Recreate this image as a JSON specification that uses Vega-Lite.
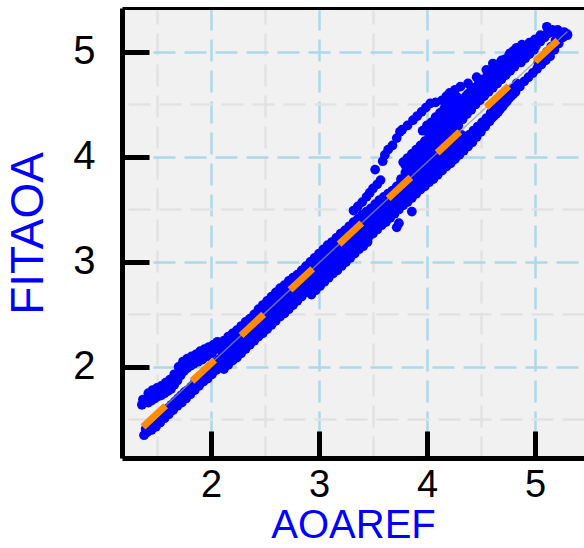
{
  "$schema": "https://vega.github.io/schema/vega-lite/v6.json",
  "autosize": "none",
  "width": 462,
  "height": 450,
  "padding": {"left": 122, "top": 8, "right": 0, "bottom": 90},
  "background": "white",
  "config": {"view": {"fill": "#f1f1f1", "stroke": null}},
  "datasets": {
    "fit": [{"x": 1.37, "y": 1.43}, {"x": 5.30, "y": 5.195}],
    "pts": [
      {"x":1.36,"y":1.64},{"x":1.37,"y":1.69},{"x":1.39,"y":1.66},{"x":1.41,"y":1.70},{"x":1.42,"y":1.66},{"x":1.44,"y":1.72},{"x":1.45,"y":1.68},{"x":1.47,"y":1.74},{"x":1.48,"y":1.70},{"x":1.50,"y":1.76},{"x":1.51,"y":1.72},{"x":1.53,"y":1.77},{"x":1.54,"y":1.73},{"x":1.56,"y":1.79},{"x":1.57,"y":1.75},{"x":1.59,"y":1.81},{"x":1.60,"y":1.77},{"x":1.62,"y":1.84},{"x":1.63,"y":1.79},{"x":1.65,"y":1.88},{"x":1.66,"y":1.83},{"x":1.68,"y":1.92},{"x":1.69,"y":1.87},{"x":1.71,"y":1.97},{"x":1.72,"y":1.92},{"x":1.73,"y":2.01},{"x":1.75,"y":1.96},{"x":1.76,"y":2.03},{"x":1.78,"y":1.99},{"x":1.79,"y":2.05},{"x":1.81,"y":2.01},{"x":1.83,"y":2.07},{"x":1.84,"y":2.03},{"x":1.86,"y":2.09},{"x":1.88,"y":2.05},{"x":1.90,"y":2.11},{"x":1.92,"y":2.07},{"x":1.94,"y":2.13},{"x":1.96,"y":2.10},{"x":1.98,"y":2.15},{"x":2.01,"y":2.13},{"x":2.04,"y":2.18},{"x":2.07,"y":2.17},
      {"x":1.42,"y":1.75},{"x":1.46,"y":1.78},{"x":1.50,"y":1.80},{"x":1.54,"y":1.82},{"x":1.58,"y":1.85},{"x":1.62,"y":1.88},{"x":1.66,"y":1.93},{"x":1.70,"y":2.00},{"x":1.74,"y":2.05},{"x":1.78,"y":2.08},{"x":1.82,"y":2.10},{"x":1.86,"y":2.12},{"x":1.90,"y":2.15},{"x":1.94,"y":2.17},{"x":1.98,"y":2.19},{"x":2.02,"y":2.21},{"x":2.06,"y":2.24},
      {"x":1.38,"y":1.35},{"x":1.395,"y":1.41},{"x":1.41,"y":1.38},{"x":1.425,"y":1.44},{"x":1.44,"y":1.41},{"x":1.455,"y":1.47},{"x":1.47,"y":1.44},{"x":1.485,"y":1.50},{"x":1.50,"y":1.46},{"x":1.515,"y":1.52},{"x":1.53,"y":1.49},{"x":1.545,"y":1.55},{"x":1.56,"y":1.52},{"x":1.575,"y":1.58},{"x":1.59,"y":1.55},{"x":1.605,"y":1.61},{"x":1.62,"y":1.58},{"x":1.635,"y":1.64},{"x":1.65,"y":1.61},{"x":1.665,"y":1.67},{"x":1.68,"y":1.64},{"x":1.695,"y":1.70},{"x":1.71,"y":1.67},{"x":1.725,"y":1.73},{"x":1.74,"y":1.70},{"x":1.755,"y":1.76},{"x":1.77,"y":1.73},{"x":1.785,"y":1.78},{"x":1.80,"y":1.76},{"x":1.815,"y":1.81},{"x":1.83,"y":1.79},{"x":1.845,"y":1.84},{"x":1.86,"y":1.82},{"x":1.875,"y":1.87},{"x":1.89,"y":1.85},{"x":1.905,"y":1.90},{"x":1.92,"y":1.88},{"x":1.935,"y":1.93},{"x":1.95,"y":1.91},{"x":1.965,"y":1.96},{"x":1.98,"y":1.94},{"x":1.995,"y":1.99},{"x":2.01,"y":1.96},{"x":2.025,"y":2.02},{"x":2.04,"y":1.99},{"x":2.055,"y":2.05},{"x":2.07,"y":2.02},{"x":2.085,"y":2.08},
      {"x":1.45,"y":1.40},{"x":1.49,"y":1.43},{"x":1.53,"y":1.47},{"x":1.57,"y":1.51},{"x":1.61,"y":1.55},{"x":1.65,"y":1.59},{"x":1.69,"y":1.63},{"x":1.73,"y":1.66},{"x":1.77,"y":1.70},{"x":1.81,"y":1.74},{"x":1.85,"y":1.78},{"x":1.89,"y":1.82},{"x":1.93,"y":1.86},{"x":1.97,"y":1.89},{"x":2.01,"y":1.93},{"x":2.05,"y":1.97},{"x":2.09,"y":2.01},
      {"x":2.10,"y":2.03},{"x":2.11,"y":2.10},{"x":2.09,"y":2.17},{"x":2.12,"y":2.25},
      {"x":2.14,"y":2.06},{"x":2.15,"y":2.14},{"x":2.13,"y":2.21},{"x":2.16,"y":2.29},
      {"x":2.18,"y":2.10},{"x":2.19,"y":2.17},{"x":2.17,"y":2.24},{"x":2.20,"y":2.32},
      {"x":2.22,"y":2.14},{"x":2.23,"y":2.21},{"x":2.21,"y":2.28},{"x":2.24,"y":2.35},
      {"x":2.26,"y":2.18},{"x":2.27,"y":2.25},{"x":2.25,"y":2.32},{"x":2.28,"y":2.39},
      {"x":2.30,"y":2.22},{"x":2.31,"y":2.29},{"x":2.29,"y":2.35},{"x":2.32,"y":2.43},
      {"x":2.34,"y":2.26},{"x":2.35,"y":2.33},{"x":2.33,"y":2.39},{"x":2.36,"y":2.46},
      {"x":2.38,"y":2.29},{"x":2.39,"y":2.37},{"x":2.37,"y":2.43},{"x":2.40,"y":2.50},
      {"x":2.42,"y":2.33},{"x":2.43,"y":2.40},{"x":2.41,"y":2.47},{"x":2.44,"y":2.55},
      {"x":2.46,"y":2.37},{"x":2.47,"y":2.44},{"x":2.45,"y":2.51},{"x":2.48,"y":2.59},
      {"x":2.50,"y":2.41},{"x":2.51,"y":2.48},{"x":2.49,"y":2.55},{"x":2.52,"y":2.63},
      {"x":2.54,"y":2.44},{"x":2.55,"y":2.52},{"x":2.53,"y":2.59},{"x":2.56,"y":2.67},
      {"x":2.58,"y":2.48},{"x":2.59,"y":2.56},{"x":2.57,"y":2.63},{"x":2.60,"y":2.71},
      {"x":2.62,"y":2.51},{"x":2.63,"y":2.59},{"x":2.61,"y":2.67},{"x":2.64,"y":2.75},
      {"x":2.66,"y":2.55},{"x":2.67,"y":2.63},{"x":2.65,"y":2.71},{"x":2.68,"y":2.78},
      {"x":2.70,"y":2.58},{"x":2.71,"y":2.67},{"x":2.69,"y":2.74},{"x":2.72,"y":2.82},
      {"x":2.74,"y":2.62},{"x":2.75,"y":2.70},{"x":2.73,"y":2.78},{"x":2.76,"y":2.85},
      {"x":2.78,"y":2.65},{"x":2.79,"y":2.74},{"x":2.77,"y":2.82},{"x":2.80,"y":2.88},
      {"x":2.82,"y":2.69},{"x":2.83,"y":2.78},{"x":2.81,"y":2.86},{"x":2.84,"y":2.92},
      {"x":2.86,"y":2.73},{"x":2.87,"y":2.82},{"x":2.85,"y":2.90},{"x":2.88,"y":2.96},
      {"x":2.90,"y":2.77},{"x":2.91,"y":2.86},{"x":2.89,"y":2.94},{"x":2.92,"y":3.00},
      {"x":2.94,"y":2.81},{"x":2.95,"y":2.90},{"x":2.93,"y":2.98},{"x":2.96,"y":3.04},
      {"x":2.98,"y":2.85},{"x":2.99,"y":2.94},{"x":2.97,"y":3.01},{"x":3.00,"y":3.08},
      {"x":3.02,"y":2.87},{"x":3.03,"y":2.96},{"x":3.01,"y":3.04},{"x":3.04,"y":3.12},
      {"x":3.06,"y":2.90},{"x":3.07,"y":3.00},{"x":3.05,"y":3.08},{"x":3.08,"y":3.16},
      {"x":3.10,"y":2.94},{"x":3.11,"y":3.03},{"x":3.09,"y":3.12},{"x":3.12,"y":3.19},
      {"x":3.14,"y":2.97},{"x":3.15,"y":3.07},{"x":3.13,"y":3.16},{"x":3.16,"y":3.23},
      {"x":3.18,"y":3.00},{"x":3.19,"y":3.10},{"x":3.17,"y":3.19},{"x":3.20,"y":3.27},
      {"x":3.22,"y":3.03},{"x":3.23,"y":3.13},{"x":3.21,"y":3.22},{"x":3.24,"y":3.30},
      {"x":3.26,"y":3.06},{"x":3.27,"y":3.17},{"x":3.25,"y":3.26},{"x":3.28,"y":3.34},
      {"x":3.30,"y":3.10},{"x":3.31,"y":3.21},{"x":3.29,"y":3.30},{"x":3.32,"y":3.38},
      {"x":3.34,"y":3.13},{"x":3.35,"y":3.24},{"x":3.33,"y":3.33},{"x":3.36,"y":3.41},
      {"x":3.38,"y":3.17},{"x":3.39,"y":3.28},{"x":3.37,"y":3.37},{"x":3.40,"y":3.45},
      {"x":3.42,"y":3.20},{"x":3.43,"y":3.31},{"x":3.41,"y":3.41},{"x":3.44,"y":3.48},
      {"x":3.46,"y":3.24},{"x":3.47,"y":3.35},{"x":3.45,"y":3.44},{"x":3.48,"y":3.51},
      {"x":3.50,"y":3.27},{"x":3.51,"y":3.38},{"x":3.49,"y":3.47},{"x":3.52,"y":3.55},
      {"x":3.54,"y":3.31},{"x":3.55,"y":3.42},{"x":3.53,"y":3.51},{"x":3.56,"y":3.59},
      {"x":3.58,"y":3.35},{"x":3.59,"y":3.46},{"x":3.57,"y":3.55},{"x":3.60,"y":3.62},
      {"x":3.62,"y":3.38},{"x":3.63,"y":3.49},{"x":3.61,"y":3.58},{"x":3.64,"y":3.65},
      {"x":3.66,"y":3.42},{"x":3.67,"y":3.53},{"x":3.65,"y":3.62},{"x":3.68,"y":3.68},
      {"x":3.70,"y":3.46},{"x":3.71,"y":3.57},{"x":3.69,"y":3.66},{"x":3.72,"y":3.72},
      {"x":2.12,"y":2.08},{"x":2.12,"y":2.15},{"x":2.12,"y":2.22},{"x":2.12,"y":1.98},
      {"x":2.16,"y":2.12},{"x":2.16,"y":2.19},{"x":2.16,"y":2.26},{"x":2.16,"y":2.02},
      {"x":2.20,"y":2.16},{"x":2.20,"y":2.23},{"x":2.20,"y":2.30},{"x":2.20,"y":2.06},
      {"x":2.24,"y":2.19},{"x":2.24,"y":2.26},{"x":2.24,"y":2.33},{"x":2.24,"y":2.09},
      {"x":2.28,"y":2.23},{"x":2.28,"y":2.30},{"x":2.28,"y":2.37},{"x":2.28,"y":2.13},
      {"x":2.32,"y":2.27},{"x":2.32,"y":2.34},{"x":2.32,"y":2.41},{"x":2.32,"y":2.17},
      {"x":2.36,"y":2.31},{"x":2.36,"y":2.38},{"x":2.36,"y":2.45},{"x":2.36,"y":2.21},
      {"x":2.40,"y":2.35},{"x":2.40,"y":2.42},{"x":2.40,"y":2.49},{"x":2.40,"y":2.25},
      {"x":2.44,"y":2.39},{"x":2.44,"y":2.46},{"x":2.44,"y":2.53},{"x":2.44,"y":2.29},
      {"x":2.48,"y":2.42},{"x":2.48,"y":2.49},{"x":2.48,"y":2.56},{"x":2.48,"y":2.32},
      {"x":2.52,"y":2.46},{"x":2.52,"y":2.53},{"x":2.52,"y":2.60},{"x":2.52,"y":2.36},
      {"x":2.56,"y":2.50},{"x":2.56,"y":2.57},{"x":2.56,"y":2.64},{"x":2.56,"y":2.40},
      {"x":2.60,"y":2.54},{"x":2.60,"y":2.61},{"x":2.60,"y":2.68},{"x":2.60,"y":2.44},
      {"x":2.64,"y":2.58},{"x":2.64,"y":2.65},{"x":2.64,"y":2.72},{"x":2.64,"y":2.48},
      {"x":2.68,"y":2.61},{"x":2.68,"y":2.68},{"x":2.68,"y":2.75},{"x":2.68,"y":2.51},
      {"x":2.72,"y":2.65},{"x":2.72,"y":2.72},{"x":2.72,"y":2.79},{"x":2.72,"y":2.55},
      {"x":2.76,"y":2.69},{"x":2.76,"y":2.76},{"x":2.76,"y":2.83},{"x":2.76,"y":2.59},
      {"x":2.80,"y":2.73},{"x":2.80,"y":2.80},{"x":2.80,"y":2.87},{"x":2.80,"y":2.63},
      {"x":2.84,"y":2.77},{"x":2.84,"y":2.84},{"x":2.84,"y":2.91},{"x":2.84,"y":2.67},
      {"x":2.88,"y":2.81},{"x":2.88,"y":2.88},{"x":2.88,"y":2.95},{"x":2.88,"y":2.71},
      {"x":2.92,"y":2.84},{"x":2.92,"y":2.91},{"x":2.92,"y":2.98},{"x":2.92,"y":2.74},{"x":2.93,"y":2.69},
      {"x":2.96,"y":2.88},{"x":2.96,"y":2.95},{"x":2.96,"y":3.02},{"x":2.96,"y":2.78},{"x":2.97,"y":2.73},
      {"x":3.00,"y":2.92},{"x":3.00,"y":2.99},{"x":3.00,"y":3.06},{"x":3.00,"y":2.82},{"x":3.01,"y":2.77},
      {"x":3.04,"y":2.94},{"x":3.04,"y":3.03},{"x":3.04,"y":3.10},{"x":3.04,"y":2.86},{"x":3.05,"y":2.81},
      {"x":3.08,"y":2.97},{"x":3.08,"y":3.07},{"x":3.08,"y":3.14},{"x":3.08,"y":2.90},{"x":3.09,"y":2.85},
      {"x":3.12,"y":3.01},{"x":3.12,"y":3.11},{"x":3.12,"y":3.18},{"x":3.12,"y":2.94},{"x":3.13,"y":2.89},
      {"x":3.16,"y":3.04},{"x":3.16,"y":3.14},{"x":3.16,"y":3.21},{"x":3.16,"y":2.97},{"x":3.17,"y":2.92},
      {"x":3.20,"y":3.07},{"x":3.20,"y":3.18},{"x":3.20,"y":3.25},{"x":3.20,"y":3.01},{"x":3.21,"y":2.96},
      {"x":3.24,"y":3.11},{"x":3.24,"y":3.22},{"x":3.24,"y":3.28},{"x":3.24,"y":3.05},{"x":3.25,"y":3.00},
      {"x":3.28,"y":3.14},{"x":3.28,"y":3.26},{"x":3.28,"y":3.32},{"x":3.28,"y":3.09},{"x":3.29,"y":3.04},
      {"x":3.32,"y":3.17},{"x":3.32,"y":3.29},{"x":3.32,"y":3.36},{"x":3.32,"y":3.13},{"x":3.33,"y":3.08},
      {"x":3.36,"y":3.21},{"x":3.36,"y":3.33},{"x":3.36,"y":3.39},{"x":3.36,"y":3.17},{"x":3.37,"y":3.12},
      {"x":3.40,"y":3.24},{"x":3.40,"y":3.37},{"x":3.40,"y":3.43},{"x":3.40,"y":3.20},{"x":3.41,"y":3.15},
      {"x":3.44,"y":3.28},{"x":3.44,"y":3.41},{"x":3.44,"y":3.46},{"x":3.44,"y":3.24},{"x":3.45,"y":3.19},
      {"x":3.48,"y":3.31},{"x":3.48,"y":3.44},{"x":3.48,"y":3.50},{"x":3.48,"y":3.28},
      {"x":3.52,"y":3.35},{"x":3.52,"y":3.48},{"x":3.52,"y":3.53},{"x":3.52,"y":3.32},
      {"x":3.56,"y":3.39},{"x":3.56,"y":3.52},{"x":3.56,"y":3.57},{"x":3.56,"y":3.36},
      {"x":3.60,"y":3.42},{"x":3.60,"y":3.55},{"x":3.60,"y":3.60},{"x":3.60,"y":3.40},
      {"x":3.64,"y":3.46},{"x":3.64,"y":3.59},{"x":3.64,"y":3.63},{"x":3.64,"y":3.43},
      {"x":3.68,"y":3.50},{"x":3.68,"y":3.63},{"x":3.68,"y":3.67},{"x":3.68,"y":3.47},
      {"x":3.72,"y":3.54},{"x":3.72,"y":3.66},{"x":3.72,"y":3.70},{"x":3.72,"y":3.51},
      {"x":3.74,"y":3.50},{"x":3.75,"y":3.61},{"x":3.73,"y":3.71},{"x":3.76,"y":3.79},
      {"x":3.78,"y":3.54},{"x":3.79,"y":3.64},{"x":3.77,"y":3.75},{"x":3.80,"y":3.85},{"x":3.78,"y":3.95},
      {"x":3.82,"y":3.57},{"x":3.83,"y":3.68},{"x":3.81,"y":3.79},{"x":3.84,"y":3.89},{"x":3.82,"y":3.99},
      {"x":3.86,"y":3.61},{"x":3.87,"y":3.72},{"x":3.85,"y":3.82},{"x":3.88,"y":3.93},{"x":3.86,"y":4.03},
      {"x":3.90,"y":3.65},{"x":3.91,"y":3.76},{"x":3.89,"y":3.86},{"x":3.92,"y":3.97},{"x":3.90,"y":4.07},
      {"x":3.94,"y":3.69},{"x":3.95,"y":3.80},{"x":3.93,"y":3.90},{"x":3.96,"y":4.01},{"x":3.94,"y":4.11},
      {"x":3.98,"y":3.72},{"x":3.99,"y":3.83},{"x":3.97,"y":3.94},{"x":4.00,"y":4.05},{"x":3.98,"y":4.15},
      {"x":4.02,"y":3.76},{"x":4.03,"y":3.87},{"x":4.01,"y":3.98},{"x":4.04,"y":4.09},{"x":4.02,"y":4.20},
      {"x":4.06,"y":3.79},{"x":4.07,"y":3.90},{"x":4.05,"y":4.02},{"x":4.08,"y":4.13},{"x":4.06,"y":4.24},
      {"x":4.10,"y":3.83},{"x":4.11,"y":3.94},{"x":4.09,"y":4.06},{"x":4.12,"y":4.17},{"x":4.10,"y":4.28},
      {"x":4.14,"y":3.87},{"x":4.15,"y":3.98},{"x":4.13,"y":4.10},{"x":4.16,"y":4.22},{"x":4.14,"y":4.32},
      {"x":4.18,"y":3.91},{"x":4.19,"y":4.02},{"x":4.17,"y":4.14},{"x":4.20,"y":4.26},{"x":4.18,"y":4.37},
      {"x":4.22,"y":3.94},{"x":4.23,"y":4.06},{"x":4.21,"y":4.19},{"x":4.24,"y":4.31},{"x":4.22,"y":4.42},
      {"x":4.26,"y":3.98},{"x":4.27,"y":4.10},{"x":4.25,"y":4.24},{"x":4.28,"y":4.35},{"x":4.26,"y":4.46},
      {"x":4.30,"y":4.02},{"x":4.31,"y":4.13},{"x":4.29,"y":4.30},{"x":4.32,"y":4.40},{"x":4.30,"y":4.51},
      {"x":4.34,"y":4.06},{"x":4.35,"y":4.17},{"x":4.33,"y":4.36},{"x":4.36,"y":4.45},{"x":4.34,"y":4.55},
      {"x":4.38,"y":4.10},{"x":4.39,"y":4.21},{"x":4.37,"y":4.41},{"x":4.40,"y":4.49},{"x":4.38,"y":4.60},
      {"x":4.42,"y":4.14},{"x":4.43,"y":4.25},{"x":4.41,"y":4.45},{"x":4.44,"y":4.53},{"x":4.42,"y":4.63},
      {"x":4.46,"y":4.19},{"x":4.47,"y":4.29},{"x":4.45,"y":4.50},{"x":4.48,"y":4.57},{"x":4.46,"y":4.66},
      {"x":4.50,"y":4.24},{"x":4.51,"y":4.33},{"x":4.49,"y":4.54},{"x":4.52,"y":4.61},{"x":4.50,"y":4.70},
      {"x":4.54,"y":4.29},{"x":4.55,"y":4.37},{"x":4.53,"y":4.58},{"x":4.56,"y":4.65},{"x":4.54,"y":4.73},
      {"x":4.58,"y":4.34},{"x":4.59,"y":4.42},{"x":4.57,"y":4.62},{"x":4.60,"y":4.69},{"x":4.58,"y":4.77},
      {"x":4.62,"y":4.39},{"x":4.63,"y":4.47},{"x":4.61,"y":4.66},{"x":4.64,"y":4.73},{"x":4.62,"y":4.81},
      {"x":4.66,"y":4.43},{"x":4.67,"y":4.51},{"x":4.65,"y":4.70},{"x":4.68,"y":4.77},{"x":4.66,"y":4.85},
      {"x":4.70,"y":4.48},{"x":4.71,"y":4.56},{"x":4.69,"y":4.74},{"x":4.72,"y":4.81},{"x":4.70,"y":4.89},
      {"x":4.74,"y":4.53},{"x":4.75,"y":4.61},{"x":4.73,"y":4.78},{"x":4.76,"y":4.85},{"x":4.74,"y":4.92},
      {"x":4.78,"y":4.58},{"x":4.79,"y":4.65},{"x":4.77,"y":4.82},{"x":4.80,"y":4.89},{"x":4.78,"y":4.96},
      {"x":4.82,"y":4.62},{"x":4.83,"y":4.70},{"x":4.81,"y":4.86},{"x":4.84,"y":4.93},{"x":4.82,"y":5.00},
      {"x":3.76,"y":3.57},{"x":3.76,"y":3.67},{"x":3.76,"y":3.77},
      {"x":3.80,"y":3.61},{"x":3.80,"y":3.71},{"x":3.80,"y":3.81},{"x":3.80,"y":3.92},
      {"x":3.84,"y":3.65},{"x":3.84,"y":3.75},{"x":3.84,"y":3.85},{"x":3.84,"y":3.96},
      {"x":3.88,"y":3.68},{"x":3.88,"y":3.78},{"x":3.88,"y":3.88},{"x":3.88,"y":3.99},
      {"x":3.92,"y":3.72},{"x":3.92,"y":3.82},{"x":3.92,"y":3.92},{"x":3.92,"y":4.03},
      {"x":3.96,"y":3.76},{"x":3.96,"y":3.86},{"x":3.96,"y":3.96},{"x":3.96,"y":4.07},
      {"x":4.00,"y":3.80},{"x":4.00,"y":3.90},{"x":4.00,"y":4.00},{"x":4.00,"y":4.11},
      {"x":4.04,"y":3.84},{"x":4.04,"y":3.94},{"x":4.04,"y":4.04},{"x":4.04,"y":4.15},{"x":4.04,"y":4.26},
      {"x":4.08,"y":3.88},{"x":4.08,"y":3.98},{"x":4.08,"y":4.08},{"x":4.08,"y":4.19},{"x":4.08,"y":4.30},
      {"x":4.12,"y":3.91},{"x":4.12,"y":4.01},{"x":4.12,"y":4.11},{"x":4.12,"y":4.22},{"x":4.12,"y":4.34},
      {"x":4.16,"y":3.95},{"x":4.16,"y":4.05},{"x":4.16,"y":4.15},{"x":4.16,"y":4.26},{"x":4.16,"y":4.38},
      {"x":4.20,"y":3.99},{"x":4.20,"y":4.09},{"x":4.20,"y":4.20},{"x":4.20,"y":4.30},{"x":4.20,"y":4.42},
      {"x":4.24,"y":4.02},{"x":4.24,"y":4.13},{"x":4.24,"y":4.25},{"x":4.24,"y":4.35},{"x":4.24,"y":4.46},
      {"x":4.28,"y":4.06},{"x":4.28,"y":4.17},{"x":4.28,"y":4.30},{"x":4.28,"y":4.40},{"x":4.28,"y":4.50},
      {"x":4.32,"y":4.10},{"x":4.32,"y":4.21},{"x":4.32,"y":4.36},{"x":4.32,"y":4.45},{"x":4.32,"y":4.54},
      {"x":4.36,"y":4.14},{"x":4.36,"y":4.41},{"x":4.36,"y":4.49},{"x":4.36,"y":4.58},
      {"x":4.40,"y":4.18},{"x":4.40,"y":4.45},{"x":4.40,"y":4.53},{"x":4.40,"y":4.62},
      {"x":4.44,"y":4.22},{"x":4.44,"y":4.50},{"x":4.44,"y":4.58},{"x":4.44,"y":4.66},
      {"x":4.48,"y":4.26},{"x":4.48,"y":4.54},{"x":4.48,"y":4.62},{"x":4.48,"y":4.70},
      {"x":4.52,"y":4.30},{"x":4.52,"y":4.58},{"x":4.52,"y":4.66},{"x":4.52,"y":4.74},
      {"x":4.56,"y":4.33},{"x":4.56,"y":4.62},{"x":4.56,"y":4.70},{"x":4.56,"y":4.78},
      {"x":4.60,"y":4.37},{"x":4.60,"y":4.66},{"x":4.60,"y":4.74},{"x":4.60,"y":4.82},
      {"x":4.64,"y":4.41},{"x":4.64,"y":4.70},{"x":4.64,"y":4.78},{"x":4.64,"y":4.86},
      {"x":4.68,"y":4.46},{"x":4.68,"y":4.74},{"x":4.68,"y":4.82},{"x":4.68,"y":4.90},
      {"x":4.72,"y":4.51},{"x":4.72,"y":4.78},{"x":4.72,"y":4.86},{"x":4.72,"y":4.93},
      {"x":4.76,"y":4.56},{"x":4.76,"y":4.82},{"x":4.76,"y":4.90},{"x":4.76,"y":4.97},
      {"x":4.80,"y":4.60},{"x":4.80,"y":4.86},{"x":4.80,"y":4.94},{"x":4.80,"y":5.01},
      {"x":4.86,"y":4.67},{"x":4.87,"y":4.90},{"x":4.85,"y":4.97},{"x":4.88,"y":5.03},
      {"x":4.90,"y":4.72},{"x":4.91,"y":4.94},{"x":4.89,"y":5.01},{"x":4.92,"y":5.06},
      {"x":4.94,"y":4.76},{"x":4.95,"y":4.98},{"x":4.93,"y":5.05},{"x":4.96,"y":5.09},
      {"x":4.98,"y":4.80},{"x":4.99,"y":5.02},{"x":4.97,"y":5.08},{"x":5.00,"y":5.12},
      {"x":5.02,"y":4.84},{"x":5.03,"y":4.90},{"x":5.01,"y":5.06},{"x":5.04,"y":5.12},
      {"x":5.06,"y":4.88},{"x":5.07,"y":4.95},{"x":5.05,"y":5.10},{"x":5.08,"y":5.15},
      {"x":5.10,"y":4.92},{"x":5.11,"y":5.00},{"x":5.09,"y":5.14},{"x":5.12,"y":5.19},
      {"x":5.14,"y":4.96},{"x":5.15,"y":5.05},{"x":5.13,"y":5.18},{"x":5.16,"y":5.21},
      {"x":5.18,"y":5.02},{"x":5.19,"y":5.11},{"x":5.17,"y":5.19},
      {"x":5.22,"y":5.08},{"x":5.23,"y":5.16},{"x":5.21,"y":5.21},
      {"x":5.26,"y":5.14},{"x":5.27,"y":5.19},{"x":5.30,"y":5.17},
      {"x":3.96,"y":4.25},{"x":4.00,"y":4.30},{"x":4.04,"y":4.33},{"x":4.08,"y":4.38},{"x":4.12,"y":4.42},{"x":4.16,"y":4.46},{"x":4.20,"y":4.50},{"x":4.24,"y":4.54},{"x":4.28,"y":4.57},
      {"x":3.32,"y":3.49},{"x":3.36,"y":3.53},{"x":3.40,"y":3.57},{"x":3.44,"y":3.62},{"x":3.47,"y":3.66},{"x":3.50,"y":3.70},{"x":3.52,"y":3.88},{"x":3.54,"y":3.74},{"x":3.57,"y":3.78},{"x":3.59,"y":3.96},{"x":3.61,"y":4.02},{"x":3.64,"y":4.07},{"x":3.68,"y":4.11},{"x":3.72,"y":4.18},{"x":3.75,"y":4.24},{"x":3.77,"y":4.26},{"x":3.82,"y":4.30},{"x":3.87,"y":4.35},{"x":3.91,"y":4.39},{"x":3.95,"y":4.43},{"x":3.99,"y":4.47},{"x":4.03,"y":4.51},{"x":4.08,"y":4.52},{"x":4.14,"y":4.54},{"x":4.18,"y":4.58},{"x":4.21,"y":4.61},{"x":4.26,"y":4.64},{"x":4.31,"y":4.67},{"x":4.38,"y":4.70},{"x":4.46,"y":4.76},{"x":4.55,"y":4.83},{"x":4.61,"y":4.89},{"x":4.69,"y":4.92},{"x":4.77,"y":4.99},{"x":4.83,"y":5.04},{"x":4.88,"y":5.07},{"x":4.95,"y":5.09},{"x":5.05,"y":5.16},{"x":5.11,"y":5.24},{"x":5.30,"y":5.16},
      {"x":3.72,"y":3.33},{"x":3.74,"y":3.37},{"x":3.86,"y":3.48}
    ]
  },
  "layer": [
    {
      "data": {"name": "pts"},
      "mark": {"type": "circle", "color": "#0000ff", "opacity": 1, "size": 95},
      "encoding": {
        "x": {"field": "x", "type": "quantitative",
          "scale": {"domain": [1.176, 5.454], "nice": false, "zero": false},
          "axis": {"orient": "bottom", "values": [2, 3, 4, 5], "grid": true, "gridColor": "#add8e6", "gridWidth": 2.5, "gridDash": [22, 9],
            "domainColor": "black", "domainWidth": 5, "tickColor": "black", "tickWidth": 5, "tickSize": -27,
            "labelFont": "Liberation Sans", "labelFontSize": 38, "labelColor": "black", "labelPadding": 35,
            "title": "AOAREF", "titleFont": "Liberation Sans", "titleFontSize": 40, "titleFontWeight": "normal", "titleColor": "#0000ff", "titlePadding": 1}},
        "y": {"field": "y", "type": "quantitative",
          "scale": {"domain": [1.133, 5.419], "nice": false, "zero": false},
          "axis": {"orient": "left", "values": [2, 3, 4, 5], "grid": true, "gridColor": "#add8e6", "gridWidth": 2.5, "gridDash": [22, 9],
            "domainColor": "black", "domainWidth": 5, "tickColor": "black", "tickWidth": 5, "tickSize": -27,
            "labelFont": "Liberation Sans", "labelFontSize": 40, "labelColor": "black", "labelPadding": 54,
            "title": "FITAOA", "titleFont": "Liberation Sans", "titleFontSize": 46, "titleFontWeight": "normal", "titleColor": "#0000ff", "titlePadding": 20}}
      }
    },
    {
      "data": {"name": "fit"},
      "mark": {"type": "line", "color": "#999999", "strokeWidth": 1.5, "opacity": 0.7},
      "encoding": {
        "x": {"field": "x", "type": "quantitative", "axis": null},
        "y": {"field": "y", "type": "quantitative", "axis": null}
      }
    },
    {
      "data": {"name": "fit"},
      "mark": {"type": "line", "color": "#ff8c00", "strokeWidth": 7, "strokeDash": [31, 36], "strokeCap": "butt"},
      "encoding": {
        "x": {"field": "x", "type": "quantitative",
          "axis": {"orient": "top", "values": [1.5, 2.5, 3.5, 4.5], "grid": true, "gridColor": "#e2e2e2", "gridWidth": 2.5, "gridDash": [22, 9],
            "ticks": false, "labels": false, "domain": true, "domainColor": "black", "domainWidth": 3, "title": null}},
        "y": {"field": "y", "type": "quantitative",
          "axis": {"orient": "right", "values": [1.5, 2.5, 3.5, 4.5], "grid": true, "gridColor": "#e2e2e2", "gridWidth": 2.5, "gridDash": [22, 9],
            "ticks": false, "labels": false, "domain": false, "title": null}}
      }
    }
  ],
  "resolve": {"axis": {"x": "independent", "y": "independent"}}
}
